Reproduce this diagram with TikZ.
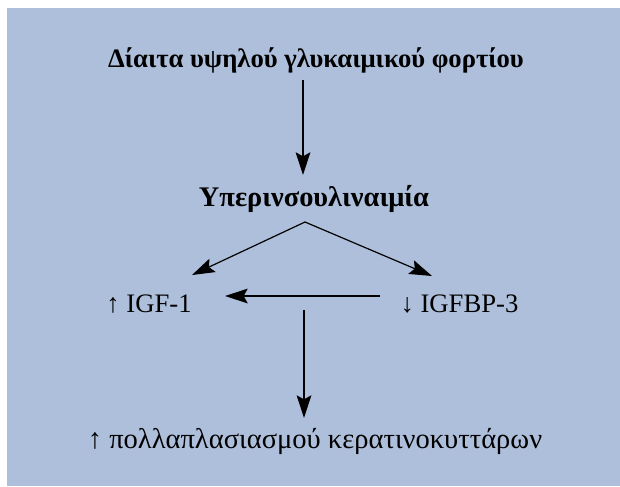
\documentclass[tikz,border=0pt]{standalone}
\usepackage{fontspec}
\setmainfont{Liberation Serif}
\usetikzlibrary{arrows.meta}
\definecolor{bgblue}{RGB}{174,191,219}
\begin{document}
\begin{tikzpicture}[x=0.75pt,y=-0.75pt,
  lbl/.style={anchor=base,inner sep=0pt,font=\fontsize{20}{24}\selectfont},
  blbl/.style={lbl,font=\fontsize{20}{24}\selectfont\bfseries},
  arr/.style={line width=0.9pt,-{Stealth[length=17pt,width=11pt,inset=3pt]}}]
\useasboundingbox (0,0) rectangle (620,486);
\fill[bgblue] (7,8) rectangle (620,486);
\node[blbl] (title) at (316,67) {Δίαιτα υψηλού γλυκαιμικού φορτίου};
\node[blbl,font=\fontsize{21.3}{24}\selectfont\bfseries] (hyper) at (314,206) {Υπερινσουλιναιμία};
\node[lbl] (igf) at (149,312) {↑ IGF-1};
\node[lbl] (igfbp) at (459.5,312) {↓ IGFBP-3};
\node[lbl,font=\fontsize{21.4}{24}\selectfont] (prolif) at (315,448) {↑ πολλαπλασιασμού κερατινοκυττάρων};
\coordinate (t1) at (303,80);
\coordinate (h1) at (303,175);
\coordinate (apex) at (305,222);
\coordinate (lt) at (192,275);
\coordinate (rt) at (432,276);
\coordinate (hs) at (380,296);
\coordinate (he) at (225,296);
\coordinate (vs) at (304,310);
\coordinate (ve) at (304,418);
\draw[arr] (t1) -- (h1);
\draw[arr] (apex) -- (lt);
\draw[arr] (apex) -- (rt);
\draw[arr] (hs) -- (he);
\draw[arr] (vs) -- (ve);
\end{tikzpicture}
\end{document}
